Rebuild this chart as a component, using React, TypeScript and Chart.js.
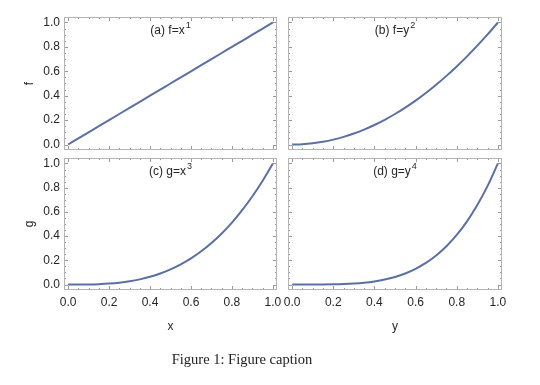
import { useEffect, useRef } from "react";
import { Chart, registerables } from "chart.js";

Chart.register(...registerables);

// ---- data ----
const xValues = [0, 0.05, 0.1, 0.15, 0.2, 0.25, 0.3, 0.35, 0.4, 0.45, 0.5, 0.55, 0.6, 0.65, 0.7, 0.75, 0.8, 0.85, 0.9, 0.95, 1.0];
const seriesA = [0, 0.05, 0.1, 0.15, 0.2, 0.25, 0.3, 0.35, 0.4, 0.45, 0.5, 0.55, 0.6, 0.65, 0.7, 0.75, 0.8, 0.85, 0.9, 0.95, 1.0];
const seriesB = [0, 0.0025, 0.01, 0.0225, 0.04, 0.0625, 0.09, 0.1225, 0.16, 0.2025, 0.25, 0.3025, 0.36, 0.4225, 0.49, 0.5625, 0.64, 0.7225, 0.81, 0.9025, 1.0];
const seriesC = [0, 0.0001, 0.001, 0.0034, 0.008, 0.0156, 0.027, 0.0429, 0.064, 0.0911, 0.125, 0.1664, 0.216, 0.2746, 0.343, 0.4219, 0.512, 0.6141, 0.729, 0.8574, 1.0];
const seriesD = [0, 0, 0.0001, 0.0005, 0.0016, 0.0039, 0.0081, 0.015, 0.0256, 0.041, 0.0625, 0.0915, 0.1296, 0.1785, 0.2401, 0.3164, 0.4096, 0.522, 0.6561, 0.8145, 1.0];

const majorTicks = [0, 0.2, 0.4, 0.6, 0.8, 1.0];
const tickLabels = ["0.0", "0.2", "0.4", "0.6", "0.8", "1.0"];
const minorStep = 0.05;

const panelLabels = ["(a) f=x", "(b) f=y", "(c) g=x", "(d) g=y"];
const panelExponents = ["1", "2", "3", "4"];
const xAxisTitles = ["x", "y"];
const yAxisTitles = ["f", "g"];
const captionText = "Figure 1: Figure caption";

// ---- layout ----
const W = 540;
const H = 385;
const FONT = "'Liberation Sans', Arial, sans-serif";
const LINE_COLOR = "#5b70a2";
const FRAME_COLOR = "#b4b4b4";
const TICK_COLOR = "#9a9a9a";
const TEXT_COLOR = "#262626";

type Frame = { l: number; t: number; r: number; b: number };
const frames: Frame[] = [
  { l: 64, t: 17, r: 277, b: 150 },
  { l: 288, t: 17, r: 502, b: 150 },
  { l: 64, t: 158, r: 277, b: 290 },
  { l: 288, t: 158, r: 502, b: 290 },
];
const panelSeries = [seriesA, seriesB, seriesC, seriesD];

const framePlugin = {
  id: "frameTicks",
  beforeDatasetsDraw(chart: any) {
    const { ctx, chartArea } = chart;
    const xs = chart.scales.x;
    const ys = chart.scales.y;
    const { left, right, top, bottom } = chartArea;
    ctx.save();
    ctx.strokeStyle = TICK_COLOR;
    ctx.lineWidth = 1;
    const ticks: number[] = [];
    for (let i = 0; i <= 20; i++) ticks.push(Math.round(i * minorStep * 100) / 100);
    ctx.beginPath();
    for (const v of ticks) {
      const isMajor = majorTicks.some((m) => Math.abs(m - v) < 1e-9);
      const len = isMajor ? 4 : 2;
      const px = Math.round(xs.getPixelForValue(v)) + 0.5;
      ctx.moveTo(px, bottom);
      ctx.lineTo(px, bottom - len);
      ctx.moveTo(px, top);
      ctx.lineTo(px, top + len);
      const py = Math.round(ys.getPixelForValue(v)) + 0.5;
      ctx.moveTo(left, py);
      ctx.lineTo(left + len, py);
      ctx.moveTo(right, py);
      ctx.lineTo(right - len, py);
    }
    ctx.stroke();
    ctx.strokeStyle = FRAME_COLOR;
    ctx.strokeRect(left + 0.5, top + 0.5, right - left - 1, bottom - top - 1);
    ctx.restore();
  },
  afterDraw(chart: any, _args: any, opts: any) {
    const { ctx, chartArea } = chart;
    const cx = (chartArea.left + chartArea.right) / 2;
    const cy = chartArea.top + 14;
    ctx.save();
    ctx.fillStyle = TEXT_COLOR;
    ctx.textBaseline = "middle";
    ctx.textAlign = "left";
    ctx.font = `12px ${FONT}`;
    const baseW = ctx.measureText(opts.text).width;
    ctx.font = `9px ${FONT}`;
    const supW = ctx.measureText(opts.sup).width;
    const x0 = cx - (baseW + supW + 1) / 2;
    ctx.font = `12px ${FONT}`;
    ctx.fillText(opts.text, x0, cy);
    ctx.font = `9px ${FONT}`;
    ctx.fillText(opts.sup, x0 + baseW + 1, cy - 5);
    ctx.restore();
  },
};

function Panel({ index }: { index: number }) {
  const ref = useRef<HTMLCanvasElement | null>(null);
  useEffect(() => {
    if (!ref.current) return;
    const f = frames[index];
    const isLeft = index % 2 === 0;
    const isBottom = index >= 2;
    const yTitlePadLeft = 22.8;
    const yAxisWidth = isLeft ? f.l - yTitlePadLeft : 0;
    const xAxisBottom = 333.7;
    const xAxisHeight = isBottom ? xAxisBottom - f.b : 0;
    const padding = {
      left: f.l - yAxisWidth,
      top: f.t,
      right: W - f.r,
      bottom: H - f.b - xAxisHeight,
    };
    const data = xValues.map((x, i) => ({ x, y: panelSeries[index][i] }));
    const chart = new Chart(ref.current, {
      type: "line",
      data: {
        datasets: [
          {
            data,
            borderColor: LINE_COLOR,
            borderWidth: 2,
            pointRadius: 0,
            cubicInterpolationMode: "monotone",
            fill: false,
          },
        ],
      },
      options: {
        responsive: false,
        animation: false,
        devicePixelRatio: 1,
        layout: { padding },
        plugins: {
          legend: { display: false },
          tooltip: { enabled: false },
          frameTicks: { text: panelLabels[index], sup: panelExponents[index] },
        } as any,
        scales: {
          x: {
            type: "linear",
            min: -0.02,
            max: 1.02,
            grid: { display: false, drawTicks: false },
            border: { display: false },
            afterBuildTicks: (s: any) => {
              s.ticks = majorTicks.map((v) => ({ value: v }));
            },
            afterFit: (s: any) => {
              s.height = xAxisHeight;
            },
            ticks: {
              display: isBottom,
              autoSkip: false,
              maxRotation: 0,
              padding: 5,
              color: TEXT_COLOR,
              font: { family: FONT, size: 12 },
              callback: (_v: any, i: number) => tickLabels[i],
            },
            title: {
              display: isBottom,
              text: xAxisTitles[index % 2],
              color: TEXT_COLOR,
              padding: 0,
              font: { family: FONT, size: 12 },
            },
          },
          y: {
            type: "linear",
            min: -0.045,
            max: 1.045,
            grid: { display: false, drawTicks: false },
            border: { display: false },
            afterBuildTicks: (s: any) => {
              s.ticks = majorTicks.map((v) => ({ value: v }));
            },
            afterFit: (s: any) => {
              s.width = yAxisWidth;
            },
            ticks: {
              display: isLeft,
              autoSkip: false,
              padding: 4,
              color: TEXT_COLOR,
              font: { family: FONT, size: 12 },
              callback: (_v: any, i: number) => tickLabels[i],
            },
            title: {
              display: isLeft,
              text: yAxisTitles[index >= 2 ? 1 : 0],
              color: TEXT_COLOR,
              padding: 0,
              font: { family: FONT, size: 12 },
            },
          },
        },
      } as any,
      plugins: [framePlugin],
    });
    return () => chart.destroy();
  }, [index]);
  return (
    <canvas
      ref={ref}
      width={W}
      height={H}
      style={{ position: "absolute", left: 0, top: 0, width: W, height: H }}
    />
  );
}

export default function App() {
  return (
    <div style={{ position: "absolute", left: 0, top: 0, width: W, height: H, background: "#fff", overflow: "hidden" }}>
      {[0, 1, 2, 3].map((i) => (
        <Panel key={i} index={i} />
      ))}
      <div
        style={{
          position: "absolute",
          left: 0,
          width: 484,
          top: 350,
          textAlign: "center",
          fontFamily: "'Liberation Serif', 'Times New Roman', serif",
          fontSize: 14.5,
          lineHeight: "18px",
          color: "#222",
        }}
      >
        {captionText}
      </div>
    </div>
  );
}
